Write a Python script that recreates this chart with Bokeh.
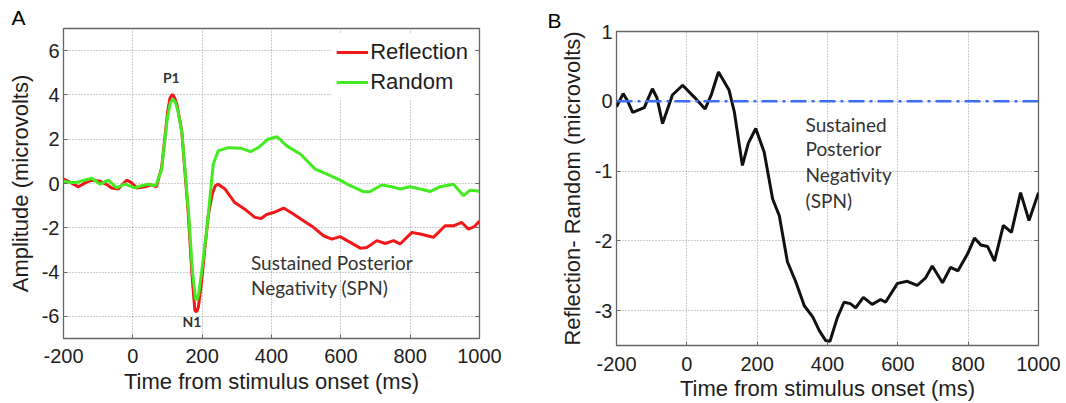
from bokeh.plotting import figure
from bokeh.layouts import row, column
from bokeh.models import LinearAxis, FixedTicker, Span, Legend, LegendItem, Range1d, Title
from bokeh.core.properties import value
from bokeh.embed import file_html
from bokeh.resources import INLINE

# ---------------- data ----------------
x_ticks = [-200, 0, 200, 400, 600, 800, 1000]
a_y_ticks = [-6, -4, -2, 0, 2, 4, 6]
b_y_ticks = [-3, -2, -1, 0, 1]

refl_t = [-200, -180, -157, -135, -118, -94, -75, -61, -42, -18, -5, 11, 35, 54, 68, 83, 92, 100, 107,
          114, 121, 128, 141, 160, 170, 179, 184, 189, 198, 208, 218, 229, 238, 246, 266, 294, 323,
          352, 370, 386, 406, 435, 463, 492, 521, 550, 574, 598, 627, 656, 675, 704, 728, 752, 771,
          805, 829, 867, 901, 925, 949, 968, 985, 1000]
refl_v = [0.2, 0.05, -0.15, 0.05, 0.15, 0.1, -0.05, -0.2, -0.25, 0.15, 0.05, -0.2, -0.15, -0.06, -0.15,
          0.72, 2.0, 3.2, 3.85, 4.03, 3.85, 3.5, 2.38, -1.38, -4.0, -5.74, -5.8, -5.59, -4.5, -2.89,
          -1.4, -0.48, -0.1, -0.03, -0.25, -0.86, -1.16, -1.53, -1.58, -1.40, -1.31, -1.11, -1.38,
          -1.68, -1.98, -2.36, -2.51, -2.40, -2.66, -2.92, -2.89, -2.58, -2.71, -2.58, -2.73, -2.21,
          -2.28, -2.43, -1.91, -1.91, -1.76, -2.06, -1.95, -1.70]

rand_t = [-200, -180, -161, -140, -118, -94, -70, -47, -23, 6, 25, 45, 66, 83, 92, 100, 108, 116, 123,
          130, 142, 161, 172, 181, 185, 190, 200, 213, 232, 246, 275, 313, 340, 362, 390, 416, 444,
          483, 526, 560, 598, 627, 665, 685, 718, 747, 771, 800, 829, 858, 886, 925, 954, 973, 1000]
rand_v = [0.1, 0.05, 0.05, 0.15, 0.24, -0.03, 0.15, -0.2, -0.03, -0.2, -0.1, -0.03, -0.1, 0.62, 1.9,
          3.0, 3.65, 3.81, 3.65, 3.3, 2.23, -1.38, -4.0, -5.22, -5.25, -4.99, -3.8, -2.13, 0.87, 1.47,
          1.62, 1.59, 1.44, 1.62, 2.0, 2.11, 1.70, 1.33, 0.65, 0.42, 0.15, -0.10, -0.37, -0.36,
          -0.07, -0.15, -0.25, -0.15, -0.25, -0.36, -0.15, -0.03, -0.55, -0.30, -0.35]

diff_t = [-200, -181, -168, -154, -121, -98, -85, -69, -41, -12, 21, 52, 70, 90, 120, 135, 158, 175, 196,
          220, 244, 263, 286, 310, 334, 358, 377, 395, 407, 428, 447, 465, 480, 502, 527, 551, 565,
          599, 627, 655, 679, 698, 727, 750, 771, 798, 818, 836, 855, 875, 900, 923, 949, 973, 1000]
diff_v = [-0.08, 0.11, 0.0, -0.16, -0.09, 0.18, 0.05, -0.32, 0.09, 0.23, 0.06, -0.11, 0.1, 0.42, 0.16,
          -0.15, -0.92, -0.6, -0.39, -0.73, -1.40, -1.64, -2.30, -2.59, -2.93, -3.09, -3.29, -3.43,
          -3.44, -3.10, -2.88, -2.90, -2.96, -2.81, -2.91, -2.84, -2.88, -2.61, -2.58, -2.64, -2.53,
          -2.36, -2.60, -2.38, -2.43, -2.19, -1.96, -2.06, -2.08, -2.29, -1.78, -1.88, -1.31, -1.71,
          -1.31]

series_names = ["Reflection", "Random"]
a_ylabel = "Amplitude (microvolts)"
b_ylabel = "Reflection- Random (microvolts)"
xlabel = "Time from stimulus onset (ms)"
spn_a = ["Sustained Posterior", "Negativity (SPN)"]
spn_b = ["Sustained", "Posterior", "Negativity", "(SPN)"]

# ---------------- style ----------------
AXIS_FONT = "Liberation Sans"
TEXT_FONT = "Lato"
EDGE = "#666666"
GRID = "#9a9a9a"
TXT = "#1e1e1e"
ANN = "#333333"


def labels_for(ticks):
    return {t: str(t) for t in ticks}   # plain hyphen-minus like the original


def style(p, yt, ylabel_standoff, xtick_standoff, xlabel_standoff):
    p.xaxis.ticker = FixedTicker(ticks=x_ticks)
    p.yaxis.ticker = FixedTicker(ticks=yt)
    p.xaxis.major_label_overrides = labels_for(x_ticks)
    p.yaxis.major_label_overrides = labels_for(yt)
    p.xaxis.axis_label = xlabel
    for ax in p.axis:
        ax.axis_line_color = None
        ax.major_tick_in = 4
        ax.major_tick_out = 0
        ax.major_tick_line_color = EDGE
        ax.minor_tick_line_color = None
        ax.major_label_text_font = AXIS_FONT
        ax.major_label_text_font_size = "20px"
        ax.major_label_text_color = TXT
        ax.axis_label_text_font = AXIS_FONT
        ax.axis_label_text_font_size = "22px"
        ax.axis_label_text_font_style = "normal"
        ax.axis_label_text_color = TXT
    p.xaxis.major_label_standoff = xtick_standoff
    p.xaxis.axis_label_standoff = xlabel_standoff
    p.yaxis.major_label_standoff = 4
    p.yaxis.axis_label_standoff = ylabel_standoff
    p.grid.grid_line_color = GRID
    p.grid.grid_line_dash = "1 2"
    p.grid.grid_line_width = 1
    p.xgrid.ticker = FixedTicker(ticks=x_ticks)
    p.ygrid.ticker = FixedTicker(ticks=yt)
    p.outline_line_color = EDGE
    p.outline_line_width = 1.3
    p.background_fill_color = "white"
    p.border_fill_color = "white"
    # mirrored ticks on the right edge (box style)
    right = LinearAxis(ticker=FixedTicker(ticks=yt), major_label_text_font_size="1px",
                       major_label_text_color=None, major_label_standoff=0,
                       axis_line_color=None, major_tick_in=4, major_tick_out=0,
                       minor_tick_line_color=None, major_tick_line_color=EDGE)
    p.add_layout(right, "right")


def panel_title(text, offset):
    return Title(text=text, align="left", offset=offset, standoff=0,
                 text_font=AXIS_FONT, text_font_size="21px", text_font_style="normal",
                 text_color="black")


# ---------------- panel A ----------------
pA = figure(width=540, height=402, x_range=Range1d(-200, 1000), y_range=Range1d(-7, 7),
            output_backend="svg", toolbar_location=None,
            min_border_left=63, min_border_right=61, min_border_top=28, min_border_bottom=64)
pA.title = panel_title("A", -52)
pA.yaxis.axis_label = a_ylabel
style(pA, a_y_ticks, 6, 10, 3)

rA = pA.line(refl_t, refl_v, line_color="#f01818", line_width=3)
gA = pA.line(rand_t, rand_v, line_color="#44ea22", line_width=3)

legA = Legend(items=[LegendItem(label=series_names[0], renderers=[rA]),
                     LegendItem(label=series_names[1], renderers=[gA])],
              location="top_right", label_text_font=AXIS_FONT, label_text_font_size="22px",
              label_text_color=TXT, glyph_width=32, glyph_height=26, label_height=26,
              spacing=4, padding=5, margin=6, label_standoff=2,
              border_line_alpha=0, background_fill_color="white", background_fill_alpha=1)
pA.add_layout(legA)

pA.text(x=[111, 170.5], y=[4.77, -6.24], text=["P1", "N1"], text_font=value(TEXT_FONT),
        text_font_size="14px", text_font_style="bold", text_color=ANN,
        text_align="center", text_baseline="middle")
pA.text(x=[340.7, 340.7], y=[-3.56, -4.69], text=spn_a,
        text_font=value(TEXT_FONT), text_font_size="19px", text_color=ANN,
        text_align="left", text_baseline="middle")

# ---------------- panel B ----------------
pB = figure(width=524, height=403, x_range=Range1d(-200, 1000), y_range=Range1d(-3.5, 1),
            output_backend="svg", toolbar_location=None,
            min_border_left=76, min_border_right=26, min_border_top=31, min_border_bottom=58)
pB.title = panel_title("B", -69)
pB.yaxis.axis_label = b_ylabel
style(pB, b_y_ticks, 7, 11, 2)

pB.add_layout(Span(location=0, dimension="width", line_color="#3b6ef2", line_width=2.5,
                   line_dash="16 5 3 5"))
pB.line(diff_t, diff_v, line_color="#111111", line_width=3)

pB.text(x=[337.7] * 4, y=[-0.334, -0.683, -1.052, -1.425], text=spn_b,
        text_font=value(TEXT_FONT), text_font_size="19px", text_color=ANN,
        text_align="left", text_baseline="middle")

layout = row(column(pA), column(pB), spacing=0)
open("out.html", "w").write(file_html(layout, INLINE))
